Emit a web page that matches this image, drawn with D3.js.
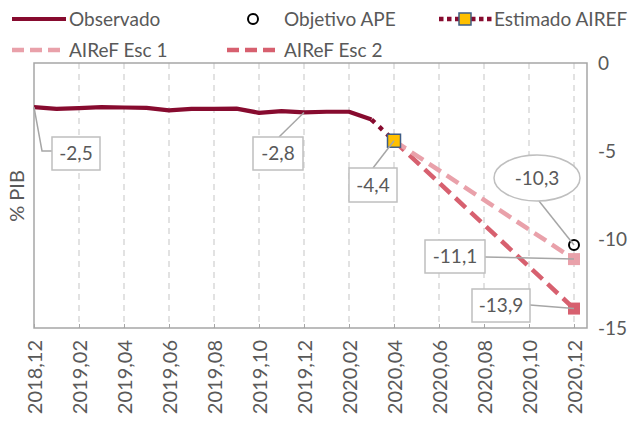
<!DOCTYPE html>
<html>
<head>
<meta charset="utf-8">
<script src="https://cdn.jsdelivr.net/npm/d3@7"></script>
<style>
body { margin:0; background:#fff; }
svg text { font-family: Lato, "Open Sans", sans-serif; fill:#595959; }
</style>
</head>
<body>
<svg id="chart"></svg>
<script>
// months on the category axis
var months = ["2018,12","2019,01","2019,02","2019,03","2019,04","2019,05","2019,06","2019,07","2019,08","2019,09","2019,10","2019,11","2019,12",
              "2020,01","2020,02","2020,03","2020,04","2020,05","2020,06","2020,07","2020,08","2020,09","2020,10","2020,11","2020,12"]
var tickMonths = months.filter(function(m,i){return i % 2 == 0})

// series
var observado = [-2.5,-2.6,-2.55,-2.5,-2.52,-2.54,-2.68,-2.6,-2.6,-2.58,-2.82,-2.72,-2.8,-2.76,-2.76,-3.2]
var estimadoMonths = ["2020,03","2020,04"]
var estimado = [-3.2,-4.4]
var esc1Months = ["2020,04","2020,12"]
var esc1 = [-4.4,-11.1]
var esc2Months = ["2020,04","2020,12"]
var esc2 = [-4.4,-13.9]
var objetivoMonth = "2020,12"
var objetivo = -10.3
var yTicks = [0,-5,-10,-15]

var screen = {width:639,height:421}
var plot = {left:34,right:587,top:63,bottom:328}

var colors = {obs:"#870B2F",esc1:"#E9A1AA",esc2:"#D7606F",grid:"#D9D9D9",frame:"#A6A6A6",text:"#595959"}

var svg = d3.select("#chart")
    .attr("width",screen.width)
    .attr("height",screen.height)

var xScale = d3.scalePoint()
    .domain(months)
    .range([34,574])
var yScale = d3.scaleLinear()
    .domain([0,-15])
    .range([plot.top,plot.bottom])

var fmt = function(v){return String(v).replace(".",",")}

// vertical dashed gridlines
svg.append("g")
   .selectAll("line")
   .data(tickMonths.slice(1))
   .enter()
   .append("line")
   .attr("x1",function(m){return xScale(m)})
   .attr("x2",function(m){return xScale(m)})
   .attr("y1",plot.top)
   .attr("y2",plot.bottom)
   .attr("stroke",colors.grid)
   .attr("stroke-width",1.5)
   .attr("stroke-dasharray","6,5")

// frame
svg.append("rect")
   .attr("x",plot.left)
   .attr("y",plot.top)
   .attr("width",plot.right-plot.left)
   .attr("height",plot.bottom-plot.top)
   .attr("fill","none")
   .attr("stroke",colors.frame)
   .attr("stroke-width",1.5)

// x axis
var xAxis = d3.axisBottom(xScale)
    .tickValues(tickMonths)
    .tickSize(-4)
    .tickPadding(0)
svg.append("g")
   .attr("transform","translate(0,"+plot.bottom+")")
   .call(xAxis)
   .call(function(g){g.select(".domain").remove()})
   .call(function(g){g.selectAll(".tick line").attr("stroke",colors.frame)})
   .selectAll("text")
   .attr("transform","rotate(-90)")
   .attr("x",-12)
   .attr("y",0)
   .attr("dy","0.35em")
   .style("text-anchor","end")
   .style("font-size","20px")
   .attr("fill",colors.text)

// y axis on the right
var yAxis = d3.axisRight(yScale)
    .tickValues(yTicks)
    .tickSize(0)
    .tickPadding(0)
    .tickFormat(function(d){return fmt(d)})
svg.append("g")
   .attr("transform","translate(598,0)")
   .call(yAxis)
   .call(function(g){g.select(".domain").remove()})
   .selectAll("text")
   .style("font-size","19px")
   .attr("fill",colors.text)

svg.append("text")
   .attr("transform","translate(17,196) rotate(-90)")
   .attr("text-anchor","middle")
   .attr("dy","0.35em")
   .style("font-size","20px")
   .text("% PIB")

var line = d3.line()
    .x(function(d){return xScale(d[0])})
    .y(function(d){return yScale(d[1])})

var obsPts = observado.map(function(v,i){return [months[i],v]})
var estPts = estimado.map(function(v,i){return [estimadoMonths[i],v]})
var esc1Pts = esc1.map(function(v,i){return [esc1Months[i],v]})
var esc2Pts = esc2.map(function(v,i){return [esc2Months[i],v]})

svg.append("path").datum(esc2Pts)
   .attr("d",line).attr("fill","none")
   .attr("stroke",colors.esc2).attr("stroke-width",4.5)
   .attr("stroke-dasharray","14,7")
svg.append("path").datum(esc1Pts)
   .attr("d",line).attr("fill","none")
   .attr("stroke",colors.esc1).attr("stroke-width",4.5)
   .attr("stroke-dasharray","14,7")
svg.append("path").datum(obsPts)
   .attr("d",line).attr("fill","none")
   .attr("stroke",colors.obs).attr("stroke-width",4.2)
   .attr("stroke-linejoin","round")
svg.append("path").datum(estPts)
   .attr("d",line).attr("fill","none")
   .attr("stroke",colors.obs).attr("stroke-width",4.5)
   .attr("stroke-dasharray","4.5,6")

// end markers
svg.append("rect")
   .attr("x",xScale(esc2Months[1])-6).attr("y",yScale(esc2[1])-6)
   .attr("width",12).attr("height",12).attr("fill",colors.esc2)
svg.append("rect")
   .attr("x",xScale(esc1Months[1])-6).attr("y",yScale(esc1[1])-6)
   .attr("width",12).attr("height",12).attr("fill",colors.esc1)
svg.append("rect")
   .attr("x",xScale(estimadoMonths[1])-6.5).attr("y",yScale(estimado[1])-6.5)
   .attr("width",13).attr("height",13).attr("fill","#FFC000")
   .attr("stroke","#3E5C86").attr("stroke-width",1.5)
svg.append("circle")
   .attr("cx",xScale(objetivoMonth)).attr("cy",yScale(objetivo))
   .attr("r",5).attr("fill","#fff").attr("stroke","#000").attr("stroke-width",2)

// data labels with leader lines
var callouts = [
  {m:"2018,12",v:observado[0],box:[52,137,48,33],path:[[42,151],[52,151]]},
  {m:"2019,12",v:observado[12],box:[253,137,50,33],path:[[279,137]]},
  {m:"2020,04",v:estimado[1],box:[349,168,48,34],path:[[373,168]]},
  {m:"2020,12",v:esc1[1],box:[425,240,60,33],path:[[485,257]]},
  {m:"2020,12",v:esc2[1],box:[472,289,58,33],path:[[530,305]]}
]
callouts.forEach(function(c){
  var pts = [[xScale(c.m),yScale(c.v)]].concat(c.path)
  svg.append("path")
     .attr("d",d3.line()(pts))
     .attr("fill","none").attr("stroke","#A6A6A6").attr("stroke-width",1.5)
  svg.append("rect")
     .attr("x",c.box[0]).attr("y",c.box[1])
     .attr("width",c.box[2]).attr("height",c.box[3])
     .attr("fill","#fff").attr("stroke","#BFBFBF").attr("stroke-width",1.5)
  svg.append("text")
     .attr("x",c.box[0]+c.box[2]/2).attr("y",c.box[1]+c.box[3]/2)
     .attr("text-anchor","middle").attr("dy","0.36em")
     .style("font-size","19px")
     .text(fmt(c.v))
})
// ellipse callout for objetivo
svg.append("line")
   .attr("x1",xScale(objetivoMonth)).attr("y1",yScale(objetivo))
   .attr("x2",539).attr("y2",201)
   .attr("stroke","#A6A6A6").attr("stroke-width",1.5)
svg.append("ellipse")
   .attr("cx",537).attr("cy",178).attr("rx",43).attr("ry",23)
   .attr("fill","#fff").attr("stroke","#BFBFBF").attr("stroke-width",1.5)
svg.append("text")
   .attr("x",537).attr("y",178).attr("text-anchor","middle").attr("dy","0.36em")
   .style("font-size","19px")
   .text(fmt(objetivo))

// legend
var leg = svg.append("g")
leg.append("line").attr("x1",12).attr("x2",66).attr("y1",19).attr("y2",19)
   .attr("stroke",colors.obs).attr("stroke-width",4)
leg.append("text").attr("x",69).attr("y",19).attr("dy","0.35em").style("font-size","19px").text("Observado")
leg.append("circle").attr("cx",253).attr("cy",19).attr("r",5)
   .attr("fill","#fff").attr("stroke","#000").attr("stroke-width",2)
leg.append("text").attr("x",284).attr("y",19).attr("dy","0.35em").style("font-size","19px").text("Objetivo APE")
leg.append("line").attr("x1",439).attr("x2",492).attr("y1",19).attr("y2",19)
   .attr("stroke",colors.obs).attr("stroke-width",4.5).attr("stroke-dasharray","4.5,3.5")
leg.append("rect").attr("x",459).attr("y",13).attr("width",12).attr("height",12)
   .attr("fill","#FFC000").attr("stroke","#3E5C86").attr("stroke-width",1.5)
leg.append("text").attr("x",494).attr("y",19).attr("dy","0.35em").style("font-size","19px").text("Estimado AIREF")
leg.append("line").attr("x1",12).attr("x2",66).attr("y1",50).attr("y2",50)
   .attr("stroke",colors.esc1).attr("stroke-width",4.5).attr("stroke-dasharray","12,6")
leg.append("text").attr("x",69).attr("y",50).attr("dy","0.35em").style("font-size","19px").text("AIReF Esc 1")
leg.append("line").attr("x1",227).attr("x2",281).attr("y1",50).attr("y2",50)
   .attr("stroke",colors.esc2).attr("stroke-width",4.5).attr("stroke-dasharray","12,6")
leg.append("text").attr("x",284).attr("y",50).attr("dy","0.35em").style("font-size","19px").text("AIReF Esc 2")
</script>
</body>
</html>
